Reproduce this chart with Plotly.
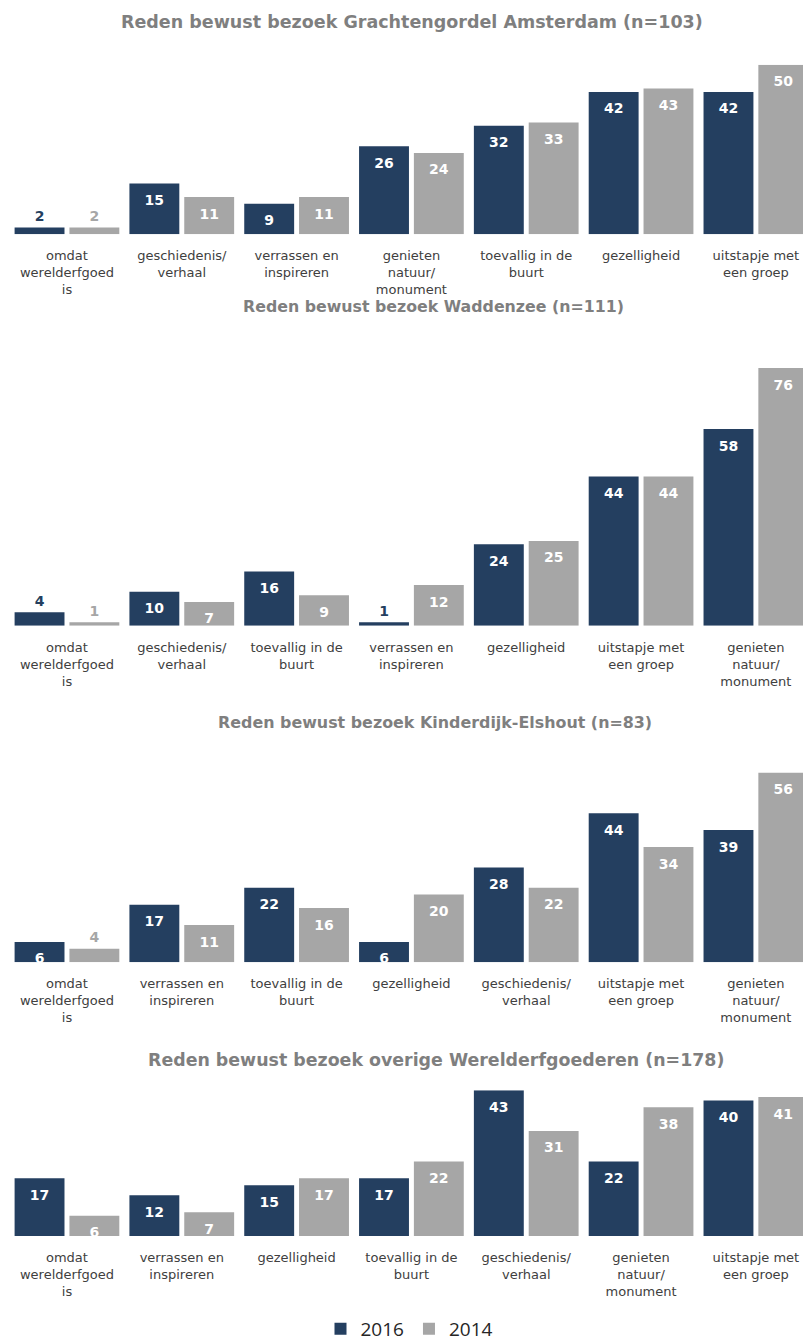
import plotly.graph_objects as go

# ---------------- data ----------------
titles = [
    "Reden bewust bezoek Grachtengordel Amsterdam (n=103)",
    "Reden bewust bezoek Waddenzee (n=111)",
    "Reden bewust bezoek Kinderdijk-Elshout (n=83)",
    "Reden bewust bezoek overige Werelderfgoederen (n=178)",
]

cats_grachtengordel = ["omdat<br>werelderfgoed<br>is", "geschiedenis/<br>verhaal", "verrassen en<br>inspireren",
                       "genieten<br>natuur/<br>monument", "toevallig in de<br>buurt", "gezelligheid",
                       "uitstapje met<br>een groep"]
v2016_grachtengordel = [2, 15, 9, 26, 32, 42, 42]
v2014_grachtengordel = [2, 11, 11, 24, 33, 43, 50]

cats_waddenzee = ["omdat<br>werelderfgoed<br>is", "geschiedenis/<br>verhaal", "toevallig in de<br>buurt",
                  "verrassen en<br>inspireren", "gezelligheid", "uitstapje met<br>een groep",
                  "genieten<br>natuur/<br>monument"]
v2016_waddenzee = [4, 10, 16, 1, 24, 44, 58]
v2014_waddenzee = [1, 7, 9, 12, 25, 44, 76]

cats_kinderdijk = ["omdat<br>werelderfgoed<br>is", "verrassen en<br>inspireren", "toevallig in de<br>buurt",
                   "gezelligheid", "geschiedenis/<br>verhaal", "uitstapje met<br>een groep",
                   "genieten<br>natuur/<br>monument"]
v2016_kinderdijk = [6, 17, 22, 6, 28, 44, 39]
v2014_kinderdijk = [4, 11, 16, 20, 22, 34, 56]

cats_overige = ["omdat<br>werelderfgoed<br>is", "verrassen en<br>inspireren", "gezelligheid",
                "toevallig in de<br>buurt", "geschiedenis/<br>verhaal", "genieten<br>natuur/<br>monument",
                "uitstapje met<br>een groep"]
v2016_overige = [17, 12, 15, 17, 43, 22, 40]
v2014_overige = [6, 7, 17, 22, 31, 38, 41]

series_names = ["2016", "2014"]

panels = [
    (cats_grachtengordel, v2016_grachtengordel, v2014_grachtengordel),
    (cats_waddenzee, v2016_waddenzee, v2014_waddenzee),
    (cats_kinderdijk, v2016_kinderdijk, v2014_kinderdijk),
    (cats_overige, v2016_overige, v2014_overige),
]

# ---------------- layout constants ----------------
OFF = 8                      # page body margin
W, H = 811 - OFF, 1340
DARK = "#243F60"
GRAY = "#A6A6A6"
colors = [DARK, GRAY]
PX_PER_UNIT = 3.39
baselines_px = [234.3 - OFF, 625.7 - OFF, 962.3 - OFF, 1236 - OFF]
title_px = [22 - OFF, 307 - OFF, 722 - OFF, 1060 - OFF]
title_cx = [412 - OFF, 433 - OFF, 435 - OFF, 436 - OFF]
title_size = [17.5, 15.8, 15.9, 17.4]
FONT = "DejaVu Sans, Verdana, sans-serif"
BARGAP = 0.045
INSIDE_MIN = 5
LABEL_SIZE = 14

fig = go.Figure()
layout = {}
annotations = []

for i, (cats, a, b) in enumerate(panels):
    n = "" if i == 0 else str(i + 1)
    xa, ya = "x" + n, "y" + n
    vmax = max(max(a), max(b))
    for s, vals in enumerate((a, b)):
        fig.add_trace(go.Bar(
            x=cats, y=vals, name=series_names[s],
            marker=dict(color=colors[s], line=dict(width=0)),
            xaxis=xa, yaxis=ya, showlegend=(i == 0),
            legendgroup=series_names[s], hoverinfo="x+y",
        ))
    for s, vals in enumerate((a, b)):
        inside = [v >= INSIDE_MIN for v in vals]
        fig.add_trace(go.Scatter(
            x=cats, y=vals, mode="markers+text",
            text=[str(v) for v in vals],
            textposition=["bottom center" if k else "top center" for k in inside],
            textfont=dict(family=FONT, size=LABEL_SIZE, weight="bold",
                          color=["white" if k else colors[s] for k in inside]),
            marker=dict(size=[16 if k else 3 for k in inside], opacity=0),
            xaxis=xa, yaxis=ya, showlegend=False, hoverinfo="skip",
            cliponaxis=False,
        ))
    base = baselines_px[i]
    top = base - PX_PER_UNIT * vmax
    layout["xaxis" + n] = dict(
        domain=[1.55 / W, 1.0], anchor=ya, type="category", range=[-0.5, 6.48],
        showline=False, showgrid=False, zeroline=False, ticks="",
        tickfont=dict(family=FONT, size=13, color="#404040"),
        ticklabelstandoff=12, fixedrange=True, automargin=False,
    )
    layout["yaxis" + n] = dict(
        domain=[(H - base) / H, (H - top) / H], anchor=xa,
        range=[0, vmax], visible=False, showgrid=False, zeroline=False,
        fixedrange=True, automargin=False,
    )
    annotations.append(dict(
        text="<b>" + titles[i] + "</b>", xref="paper", yref="paper",
        x=title_cx[i] / W, y=(H - title_px[i]) / H, xanchor="center", yanchor="middle",
        showarrow=False,
        font=dict(family=FONT, size=title_size[i], color="#7F7F7F"),
    ))

fig.update_layout(
    **layout,
    annotations=annotations,
    width=W, height=H,
    margin=dict(l=0, r=0, t=0, b=0),
    paper_bgcolor="white", plot_bgcolor="white",
    barmode="group", bargap=BARGAP, bargroupgap=0.09,
    scattermode="group", scattergap=BARGAP,
    legend=dict(orientation="h", x=0.5, xanchor="center", y=0, yanchor="bottom",
                font=dict(family="Open Sans, sans-serif", size=19, color="#262626"),
                traceorder="normal", itemwidth=30),
    showlegend=True,
)

fig.write_html("out.html")
